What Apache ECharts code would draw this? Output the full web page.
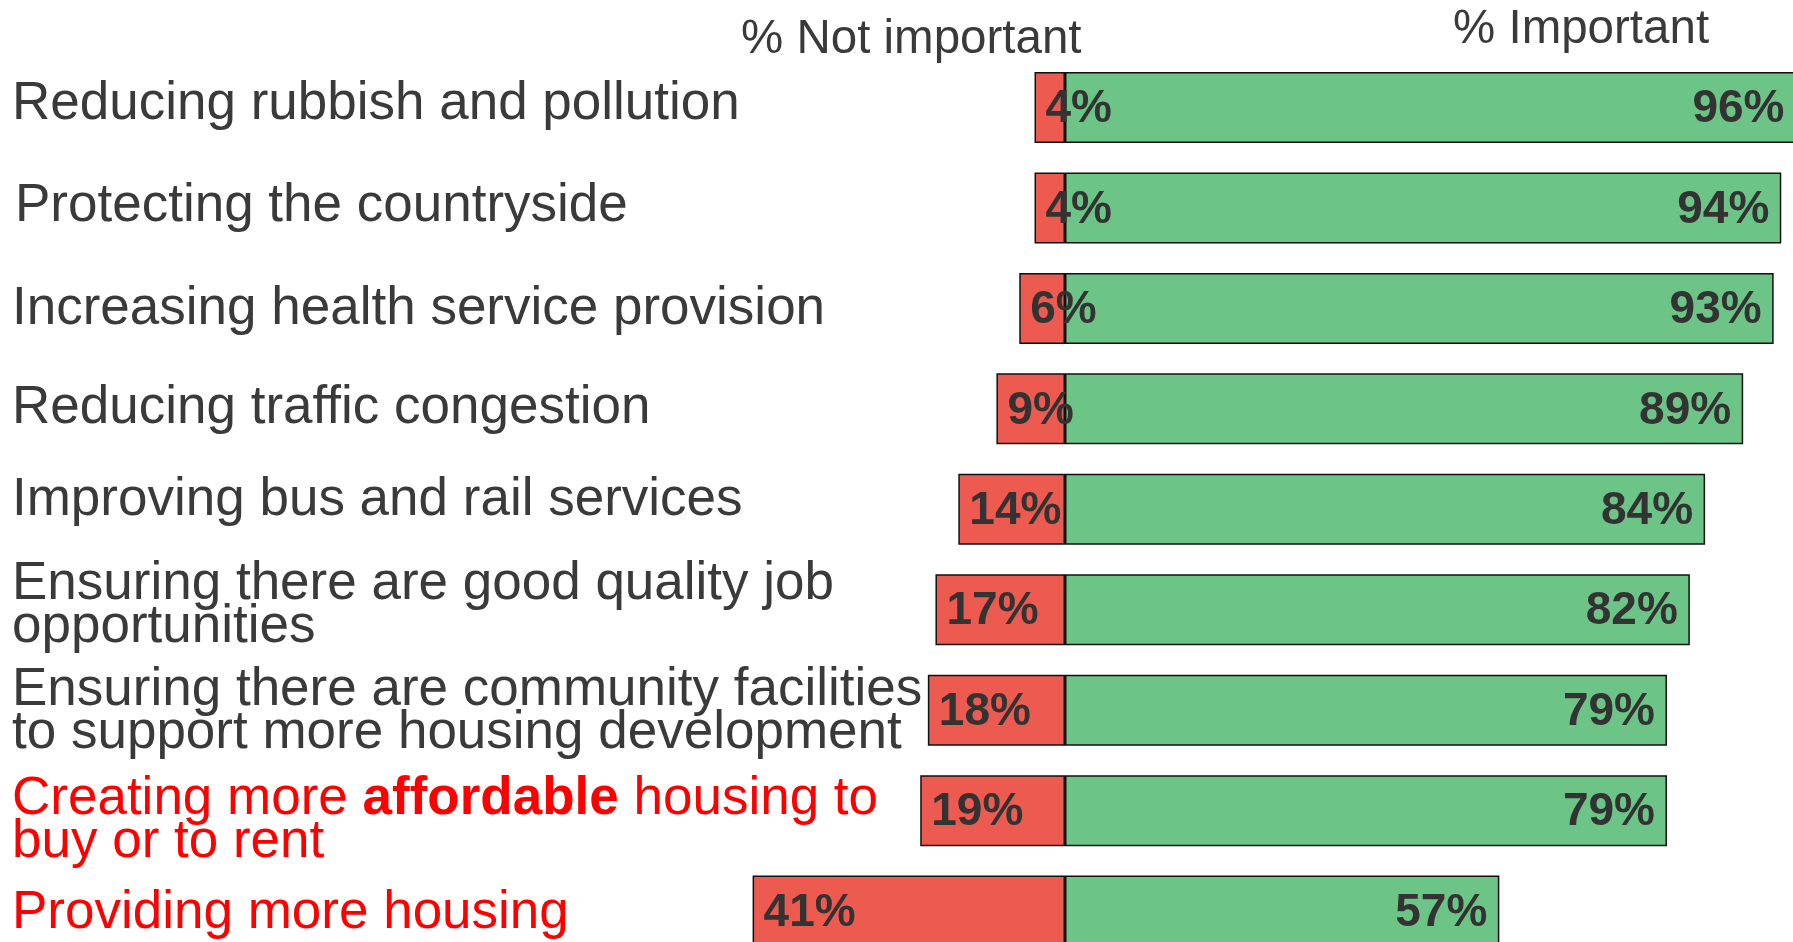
<!DOCTYPE html>
<html>
<head>
<meta charset="utf-8">
<script src="https://cdn.jsdelivr.net/npm/echarts@6/dist/echarts.min.js"></script>
<style>
html,body{margin:0;padding:0;background:#fff;}
#chart{width:1793px;height:942px;}
</style>
</head>
<body>
<div id="chart"></div>
<script>
// ---- data ----
const categories = [
  'Reducing rubbish and pollution',
  'Protecting the countryside',
  'Increasing health service provision',
  'Reducing traffic congestion',
  'Improving bus and rail services',
  'Ensuring there are good quality job\nopportunities',
  'Ensuring there are community facilities\nto support more housing development',
  'Creating more affordable housing to\nbuy or to rent',
  'Providing more housing'
];
const notImportant = [4, 4, 6, 9, 14, 17, 18, 19, 41];
const important = [96, 94, 93, 89, 84, 82, 79, 79, 57];
const highlightedRows = [7, 8];
const boldWord = 'affordable';
const headerNot = '% Not important';
const headerImp = '% Important';

// ---- styles ----
const FONT = '"Liberation Sans", Arial, sans-serif';
const LABEL_COLOR = '#3a3a3a';
const RED = '#EC5A50';
const GREEN = '#6CC587';
const CAT_SIZE = 53;
// per-row label nudges [dx, dy] in px
const labelNudge = [[0,-3],[3,-2],[0,1],[0,0],[0,-9],[0,-4],[0,2],[0,10],[0,2]];

const yData = categories.map((c, i) => {
  const [dx, dy] = labelNudge[i];
  const pad = [dy > 0 ? 2 * dy : 0, 0, dy < 0 ? -2 * dy : 0, dx];
  return { value: c, textStyle: { padding: pad, align: 'left' } };
});

const chart = echarts.init(document.getElementById('chart'));
const option = {
  backgroundColor: '#ffffff',
  animation: false,
  grid: { left: 684, top: 57.3, width: 1143, height: 904, containLabel: false, outerBoundsMode: 'none' },
  xAxis: {
    type: 'value', min: -50, max: 100, show: false
  },
  yAxis: {
    type: 'category',
    inverse: true,
    data: yData,
    axisLine: { show: false },
    axisTick: { show: false },
    splitLine: { show: false },
    axisLabel: {
      align: 'left',
      margin: 672,
      fontSize: CAT_SIZE,
      lineHeight: 43,
      fontFamily: FONT,
      color: LABEL_COLOR,
      hideOverlap: false,
      formatter: function (value, idx) {
        if (highlightedRows.indexOf(idx) < 0) return value;
        return value.split('\n').map(line => {
          const parts = line.split(boldWord);
          return parts.map(p => p ? '{r|' + p + '}' : '').join('{rb|' + boldWord + '}');
        }).join('\n');
      },
      rich: {
        r: { color: '#FF0000', fontSize: CAT_SIZE, lineHeight: 43, fontFamily: FONT },
        rb: { color: '#FF0000', fontSize: CAT_SIZE, lineHeight: 43, fontFamily: FONT, fontWeight: 'bold' }
      }
    }
  },
  series: [
    {
      name: headerNot,
      type: 'bar',
      barWidth: 71,
      barGap: '-100%',
      data: notImportant.map(v => -v),
      itemStyle: { color: RED, borderColor: '#111', borderWidth: 1.5 },
      label: {
        show: true, position: 'insideLeft', distance: 11, offset: [0, 2],
        formatter: p => Math.abs(p.value) + '%',
        fontSize: 46, fontWeight: 'bold', fontFamily: FONT, color: '#333'
      }
    },
    {
      name: headerImp,
      type: 'bar',
      barWidth: 71,
      barGap: '-100%',
      data: important,
      itemStyle: { color: GREEN, borderColor: '#111', borderWidth: 1.5 },
      label: {
        show: true, position: 'insideRight', distance: 12, offset: [0, 2],
        formatter: p => p.value + '%',
        fontSize: 46, fontWeight: 'bold', fontFamily: FONT, color: '#333'
      }
    }
  ],
  graphic: [
    { type: 'text', x: 741, y: 40, style: { text: headerNot, fontSize: 47.5, fontFamily: FONT, fill: LABEL_COLOR, textVerticalAlign: 'middle' } },
    { type: 'text', x: 1453, y: 30, style: { text: headerImp, fontSize: 47.5, fontFamily: FONT, fill: LABEL_COLOR, textVerticalAlign: 'middle' } }
  ]
};
chart.setOption(option);
</script>
</body>
</html>
